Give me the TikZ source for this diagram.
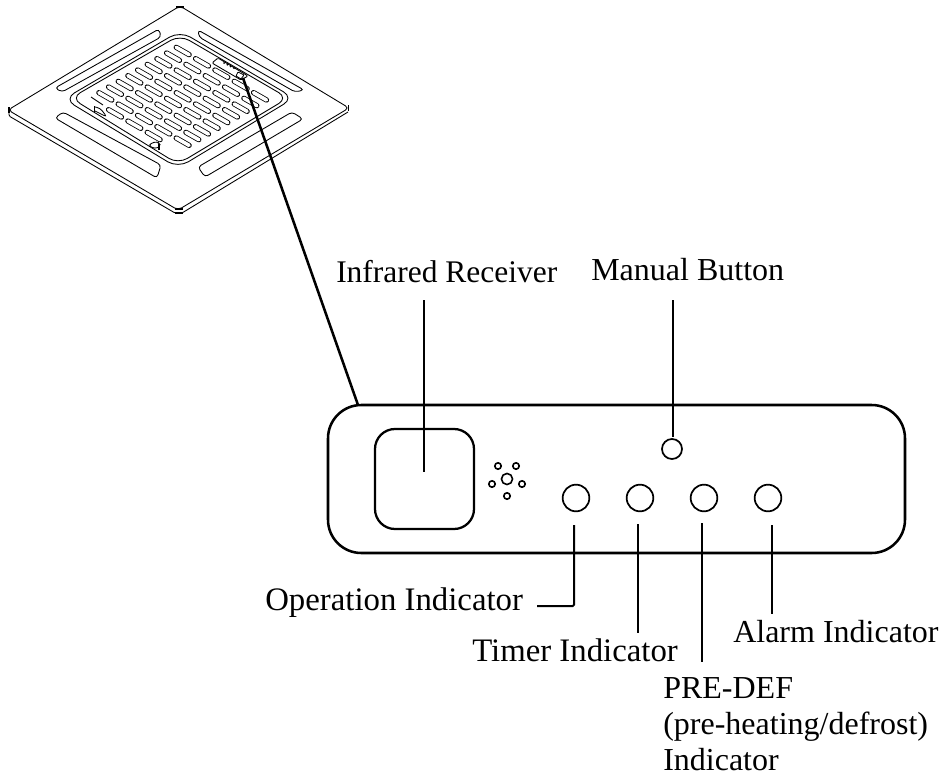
\documentclass[tikz,border=0pt]{standalone}
\usepackage{fontspec}
\setmainfont{Liberation Serif}
\tikzset{
    label/.style={anchor=base west, inner sep=0pt, font=\fontsize{24}{27}\selectfont},
    widelabel/.style={label, font=\fontsize{24.6}{27}\selectfont},
    led/.style={draw, circle, inner sep=0pt, line width=1.3pt, minimum size=20pt},
    dot/.style={draw, circle, inner sep=0pt, line width=1.2pt},
    leader/.style={line width=1.5pt},
    thinleader/.style={line width=0.8pt},
    plate/.style={line width=0.65pt, rounded corners=2.5pt},
    slot/.style={double=white, double distance=2.7pt, line width=0.6pt, line cap=round},
    tick/.style={line width=1.4pt}
}

\begin{document}
\begin{tikzpicture}[x=0.75pt, y=-0.75pt]
    \useasboundingbox (0,0) rectangle (943,778);

    % ceiling panel
    \draw[plate, rounded corners=3pt] (180,6) -- (349,108) -- (178,210) -- (8,110) -- cycle;
    \draw[plate, rounded corners=1pt] (9,112) -- (9,116) -- (175,213) -- (182,213) -- (348,112);
    \draw[plate, rounded corners=9pt] (180,31) -- (294,98) -- (178,168) -- (64,99) -- cycle;
    \draw[plate, rounded corners=8pt] (180,35) -- (288,98) -- (178,164) -- (71,98) -- cycle;
    \draw[plate] (159,29) -- (55,88) -- (62,92) -- (161,37) -- cycle;
    \draw[plate] (198,30) -- (304,90) -- (295,92) -- (199,37) -- cycle;
    \draw[plate] (55,118) -- (63,112) -- (161,165) -- (157,178) -- cycle;
    \draw[plate] (292,112) -- (303,119) -- (205,177) -- (198,167) -- cycle;

    % corner marks
    \draw[tick] (9,107) -- (9,113);
    \draw[tick] (348.5,105) -- (348.5,111);
    \draw[tick] (176,7) -- (184,7);
    \draw[tick] (175,209) -- (183,209);
    \draw[tick] (175,213) -- (183,213);

    % grille
    \foreach \i in {0,...,4}
        \foreach \j in {0,...,9} {
            \pgfmathsetmacro{\keep}{(\j==9 && (\i==0 || \i==4)) ? 0 : 1}
            \ifnum\keep=1
                \pgfmathsetmacro{\cx}{182.7+19.33*\i-9.67*\j}
                \pgfmathsetmacro{\cy}{51+11.33*\i+5.67*\j}
                \draw[slot] (\cx-6.5,\cy-3.7) -- (\cx+6.5,\cy+3.7);
            \fi
        }

    % display window on the panel
    \draw[plate, rounded corners=1pt, fill=white] (218,58) -- (248,76) -- (241,80) -- (212,63) -- cycle;
    \draw[plate, rounded corners=0.5pt] (238,72) -- (244,75) -- (241,79) -- (236,76) -- cycle;
    \foreach \k in {0,1,2,3}
        \fill (224+3.3*\k,63+1.7*\k) circle (1);

    % arrow marks on the panel
    \draw[plate] (91,97) -- (103,105);
    \draw[line width=1.3pt] (94.5,106) -- (94.5,112);
    \draw[plate, fill=white] (95,107) -- (100,108) -- (107,117) -- (101,114) -- (95,111);
    \draw[plate, fill=white] (148,145) -- (157,141) -- (161,146) -- (155,149) -- cycle;
    \draw[line width=1.5pt] (159,144) -- (159,150);

    % control box
    \node[draw, line width=1.9pt, inner sep=0pt, minimum width=432.75pt, minimum height=111pt,
          rounded corners=25pt] (box) at (616.5,479) {};
    \node[draw, line width=1.7pt, inner sep=0pt, minimum width=74.25pt, minimum height=75pt,
          rounded corners=15pt] (receiver) at (424.5,479) {};

    \node[dot, minimum size=8.3pt] (sensor) at (507,479) {};
    \node[dot, minimum size=4.8pt] (s1) at (498,466) {};
    \node[dot, minimum size=4.8pt] (s2) at (516,466) {};
    \node[dot, minimum size=4.8pt] (s3) at (492,484) {};
    \node[dot, minimum size=4.8pt] (s4) at (522,484) {};
    \node[dot, minimum size=4.8pt] (s5) at (507,496) {};

    \node[led] (opLed) at (576,498) {};
    \node[led] (timerLed) at (640,498) {};
    \node[led] (defLed) at (704,498) {};
    \node[led] (alarmLed) at (768,498) {};
    \node[led, minimum size=15pt] (manualLed) at (672,449) {};

    % labels
    \node[label, font=\fontsize{23.6}{27}\selectfont] (receiverText) at (336,282) {Infrared Receiver};
    \node[label] (manualText) at (591,280) {Manual Button};
    \node[widelabel] (opText) at (265,610) {Operation Indicator};
    \node[widelabel] (timerText) at (472,661) {Timer Indicator};
    \node[label] (alarmText) at (733,642) {Alarm Indicator};
    \node[label, anchor=north west, align=left] (defText) at (663,677)
        {PRE-DEF\\(pre-heating/defrost)\\Indicator};

    % connectors
    \coordinate (windowTip) at (243,78);
    \coordinate (boxTip) at (358,405);
    \coordinate (receiverTop) at (424,300);
    \coordinate (receiverEnd) at (424,472);
    \coordinate (manualTop) at (673,300);
    \coordinate (manualEnd) at (673,437);
    \coordinate (opStart) at (574,525);
    \coordinate (opCorner) at (574,606);
    \coordinate (opEnd) at (537,606);
    \coordinate (timerStart) at (638,524);
    \coordinate (timerEnd) at (638,633);
    \coordinate (defStart) at (702,523);
    \coordinate (defEnd) at (702,662);
    \coordinate (alarmStart) at (772,525);
    \coordinate (alarmEnd) at (772,614);

    \draw[line width=1.9pt] (windowTip) -- (boxTip);
    \draw[thinleader] (receiverTop) -- (receiverEnd);
    \draw[thinleader] (manualTop) -- (manualEnd);
    \draw[leader, rounded corners=1pt] (opStart) -- (opCorner) -- (opEnd);
    \draw[leader] (timerStart) -- (timerEnd);
    \draw[leader] (defStart) -- (defEnd);
    \draw[leader] (alarmStart) -- (alarmEnd);
\end{tikzpicture}
\end{document}
